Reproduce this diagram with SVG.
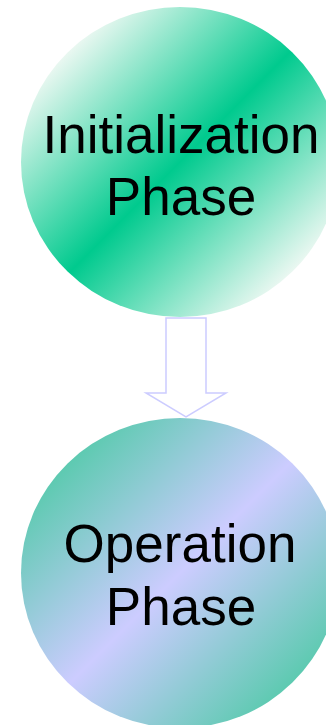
<svg xmlns="http://www.w3.org/2000/svg" width="326" height="725" viewBox="0 0 326 725">
<defs>
<linearGradient id="gTop" gradientUnits="userSpaceOnUse" x1="68" y1="50" x2="292" y2="274">
<stop offset="0" stop-color="#ecf8f2"/>
<stop offset="0.5" stop-color="#00ca8e"/>
<stop offset="1" stop-color="#ecf8f2"/>
</linearGradient>
<linearGradient id="gBot" gradientUnits="userSpaceOnUse" x1="68" y1="461" x2="292" y2="685">
<stop offset="0" stop-color="#5ccab0"/>
<stop offset="0.5" stop-color="#ccccff"/>
<stop offset="1" stop-color="#5ccab0"/>
</linearGradient>
<style>
.lbl{font-family:"Liberation Sans",Arial,sans-serif;font-size:53px;fill:#000;text-anchor:middle}
.arrow{fill:#fff;stroke:#ccccff;stroke-width:1.5}
</style>
</defs>
<rect width="326" height="725" fill="#fff"/>
<g id="connectors">
<path class="arrow" d="M166,318 L206,318 L206,393 L226,393 L186,417 L146,393 L166,393 Z"/>
</g>
<g id="init">
<ellipse cx="180" cy="162" rx="159" ry="155" fill="url(#gTop)"/>
<text class="lbl" x="181" y="153">Initialization</text>
<text class="lbl" x="181" y="215">Phase</text>
</g>
<g id="oper">
<ellipse cx="180" cy="573" rx="159" ry="155" fill="url(#gBot)"/>
<text class="lbl" x="180" y="562">Operation</text>
<text class="lbl" x="181" y="625">Phase</text>
</g>
</svg>
